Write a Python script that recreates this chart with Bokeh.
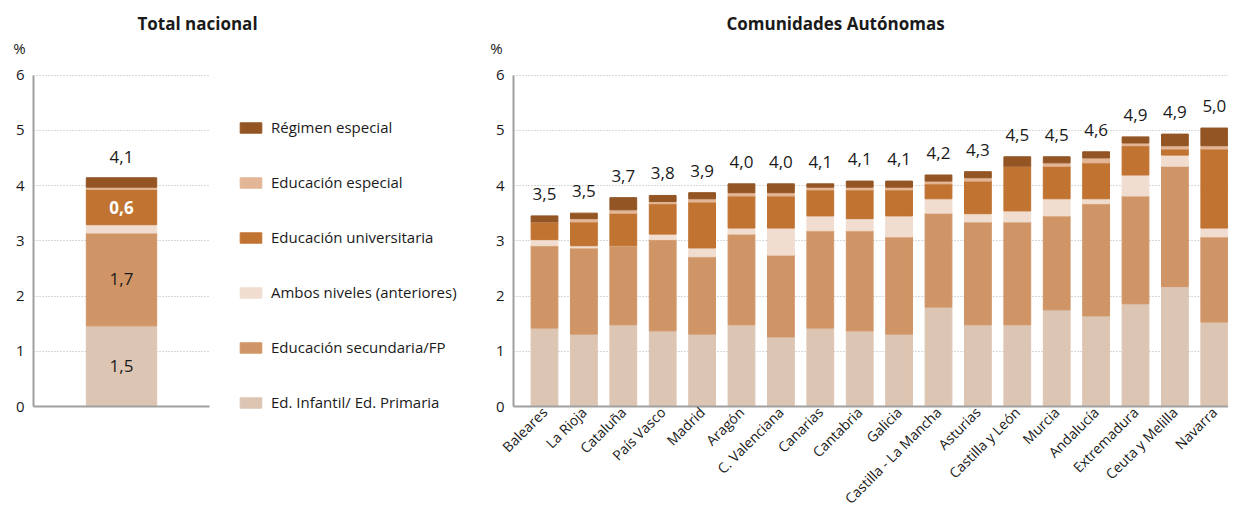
import numpy as np
from bokeh.plotting import figure
from bokeh.layouts import row
from bokeh.models import (Range1d, FixedTicker, Legend, LegendItem, Label,
                          ColumnDataSource, Grid)
from bokeh.core.properties import value
from bokeh.embed import file_html
from bokeh.resources import INLINE

# ---------------- data ----------------
series_names = ["Ed. Infantil/ Ed. Primaria", "Educación secundaria/FP",
                "Ambos niveles (anteriores)", "Educación universitaria",
                "Educación especial", "Régimen especial"]
series_keys = ["inf", "sec", "amb", "uni", "esp", "reg"]
colors = ["#DDC5B3", "#D09566", "#F0DDCF", "#C17332", "#E2B696", "#935524"]

# Total nacional (values per stage)
nacional_cat = ["Total nacional"]
nacional_values = [1.46, 1.68, 0.15, 0.64, 0.04, 0.17]
nacional_total = [4.1]

# Comunidades Autónomas
regions = ["Baleares", "La Rioja", "Cataluña", "País Vasco", "Madrid", "Aragón",
           "C. Valenciana", "Canarias", "Cantabria", "Galicia",
           "Castilla - La Mancha", "Asturias", "Castilla y León", "Murcia",
           "Andalucía", "Extremadura", "Ceuta y Melilla", "Navarra"]
inf = [1.42, 1.31, 1.48, 1.37, 1.31, 1.48, 1.26, 1.42, 1.37, 1.31, 1.80, 1.48, 1.48, 1.75, 1.64, 1.86, 2.17, 1.53]
sec = [1.49, 1.56, 1.43, 1.65, 1.40, 1.64, 1.48, 1.76, 1.81, 1.76, 1.70, 1.86, 1.86, 1.70, 2.03, 1.95, 2.18, 1.54]
amb = [0.11, 0.04, 0.00, 0.10, 0.16, 0.11, 0.49, 0.27, 0.22, 0.38, 0.26, 0.15, 0.20, 0.31, 0.09, 0.38, 0.20, 0.16]
uni = [0.32, 0.43, 0.59, 0.55, 0.83, 0.58, 0.58, 0.47, 0.52, 0.47, 0.27, 0.59, 0.81, 0.59, 0.65, 0.53, 0.11, 1.43]
esp = [0.00, 0.06, 0.06, 0.04, 0.06, 0.06, 0.06, 0.05, 0.05, 0.05, 0.05, 0.06, 0.00, 0.06, 0.09, 0.05, 0.06, 0.06]
reg = [0.11, 0.10, 0.22, 0.11, 0.11, 0.16, 0.16, 0.06, 0.11, 0.11, 0.11, 0.11, 0.17, 0.11, 0.11, 0.11, 0.21, 0.32]
totals = [3.5, 3.5, 3.7, 3.8, 3.9, 4.0, 4.0, 4.1, 4.1, 4.1, 4.2, 4.3, 4.5, 4.5, 4.6, 4.9, 4.9, 5.0]

y_ticks = [0, 1, 2, 3, 4, 5, 6]

FONT = "Open Sans"
TXT = "#1a1a1a"
AXIS_C = "#a0a0a0"
GRID_C = "#b0b0b0"
HAS_CB = "cross_bounds" in Grid.properties()

H = 510
PX_Y = 55.25                       # pixels per y unit
Y0 = 406                           # pixel row of y = 0 inside the figure
Y_RANGE = (-(H - Y0) / PX_Y, Y0 / PX_Y)


def fmt(v):
    return f"{v:.1f}".replace(".", ",")


def style(p, x_axis_at, x_end):
    p.outline_line_color = None
    p.min_border = 0
    p.background_fill_color = "white"
    p.border_fill_color = "white"
    p.xgrid.grid_line_color = None
    # horizontal grid
    if HAS_CB:
        p.ygrid.grid_line_color = GRID_C
        p.ygrid.grid_line_dash = "1 2"
        p.ygrid.grid_line_width = 1
        p.ygrid.cross_bounds = (x_axis_at, x_end)
    else:
        p.ygrid.grid_line_color = None
        p.segment(x0=[x_axis_at] * len(y_ticks), x1=[x_end] * len(y_ticks),
                  y0=y_ticks, y1=y_ticks, line_color=GRID_C, line_dash="1 2",
                  line_width=1, level="underlay")
    # y axis
    p.yaxis.ticker = FixedTicker(ticks=y_ticks)
    p.yaxis.fixed_location = x_axis_at
    p.yaxis.bounds = (0, 6)
    p.yaxis.major_tick_line_color = None
    p.yaxis.minor_tick_line_color = None
    p.yaxis.major_tick_in = 0
    p.yaxis.major_tick_out = 0
    p.yaxis.axis_line_color = AXIS_C
    p.yaxis.axis_line_width = 2
    p.yaxis.major_label_text_font = FONT
    p.yaxis.major_label_text_font_size = "15px"
    p.yaxis.major_label_text_color = TXT
    p.yaxis.major_label_standoff = 9
    # x axis, drawn at y = 0
    p.xaxis.fixed_location = 0
    p.xaxis.bounds = (x_axis_at, x_end)
    p.xaxis.major_tick_line_color = None
    p.xaxis.minor_tick_line_color = None
    p.xaxis.major_tick_in = 0
    p.xaxis.major_tick_out = 0
    p.xaxis.axis_line_color = AXIS_C
    p.xaxis.axis_line_width = 2


# ---------------- left: Total nacional ----------------
W1 = 479
PX_X1 = 176.0
xl_start = -0.5 - 33 / PX_X1
nx = list(range(len(nacional_cat)))
p1 = figure(width=W1, height=H, x_range=Range1d(xl_start, xl_start + W1 / PX_X1),
            y_range=Range1d(*Y_RANGE), output_backend="svg", toolbar_location=None)
style(p1, -0.5, 0.5)
p1.xaxis.ticker = FixedTicker(ticks=[])

src1 = ColumnDataSource(data=dict(x=nx, **{k: [v] for k, v in zip(series_keys, nacional_values)}))
rs1 = p1.vbar_stack(series_keys, x="x", width=0.40, color=colors, source=src1)

vals = np.array(nacional_values)
tops = np.cumsum(vals)
centers = tops - vals / 2
seg_idx = [0, 1, 3]
src_seg = ColumnDataSource(data=dict(
    x=[nx[0]] * len(seg_idx),
    y=[centers[i] for i in seg_idx],
    t=[fmt(vals[i]) for i in seg_idx],
    c=[TXT, TXT, "white"],
    w=["normal", "normal", "bold"]))
p1.text(x="x", y="y", text="t", text_color="c", text_font_style="w", source=src_seg,
        text_font=value(FONT), text_font_size="17px", text_align="center",
        text_baseline="middle")
p1.text(x=nx, y=[tops[-1]], text=[fmt(v) for v in nacional_total],
        text_font=value(FONT), text_font_size="17px", text_color=TXT,
        text_align="center", text_baseline="middle", y_offset=-21)

p1.add_layout(Label(x=xl_start + 197 / PX_X1, y=(Y0 - 23) / PX_Y, text="Total nacional",
                    text_font=FONT, text_font_size="17px", text_font_style="bold",
                    text_color=TXT, text_align="center", text_baseline="middle"))
p1.add_layout(Label(x=xl_start + 19 / PX_X1, y=(Y0 - 47) / PX_Y, text="%",
                    text_font=FONT, text_font_size="15px", text_color=TXT,
                    text_align="center", text_baseline="middle"))

legend = Legend(items=[LegendItem(label=series_names[i], renderers=[rs1[i]])
                       for i in reversed(range(len(series_names)))],
                location=(237, H - 412), orientation="vertical",
                glyph_width=27, glyph_height=13, label_height=20, spacing=35,
                padding=0, margin=0, border_line_color=None,
                background_fill_alpha=0, label_standoff=7,
                label_text_font=FONT, label_text_font_size="15px",
                label_text_color=TXT)
p1.add_layout(legend, "center")

# ---------------- right: Comunidades Autónomas ----------------
W2 = 749
PITCH = 39.4
xr_start = -(545 - 480) / PITCH
xr_end = xr_start + W2 / PITCH
yaxis_x = xr_start + 34 / PITCH
xs = list(range(len(regions)))
p2 = figure(width=W2, height=H, x_range=Range1d(xr_start, xr_end),
            y_range=Range1d(*Y_RANGE), output_backend="svg", toolbar_location=None)
style(p2, yaxis_x, xr_end)
p2.xaxis.ticker = FixedTicker(ticks=xs)
p2.xaxis.major_label_overrides = {i: r for i, r in enumerate(regions)}
p2.xaxis.major_label_orientation = np.pi / 4
p2.xaxis.major_label_text_font = FONT
p2.xaxis.major_label_text_font_size = "14px"
p2.xaxis.major_label_text_color = TXT
p2.xaxis.major_label_standoff = 3

src2 = ColumnDataSource(data=dict(x=xs, inf=inf, sec=sec, amb=amb, uni=uni, esp=esp, reg=reg))
p2.vbar_stack(series_keys, x="x", width=0.68, color=colors, source=src2)

stack_tops = np.array(inf) + np.array(sec) + np.array(amb) + np.array(uni) + np.array(esp) + np.array(reg)
p2.text(x=xs, y=list(stack_tops), text=[fmt(v) for v in totals],
        text_font=value(FONT), text_font_size="17px", text_color=TXT,
        text_align="center", text_baseline="middle", y_offset=-22)

p2.add_layout(Label(x=xr_start + 356 / PITCH, y=(Y0 - 23) / PX_Y, text="Comunidades Autónomas",
                    text_font=FONT, text_font_size="17px", text_font_style="bold",
                    text_color=TXT, text_align="center", text_baseline="middle"))
p2.add_layout(Label(x=xr_start + 17 / PITCH, y=(Y0 - 47) / PX_Y, text="%",
                    text_font=FONT, text_font_size="15px", text_color=TXT,
                    text_align="center", text_baseline="middle"))

layout = row(p1, p2, spacing=0)
open("out.html", "w").write(file_html(layout, INLINE))
